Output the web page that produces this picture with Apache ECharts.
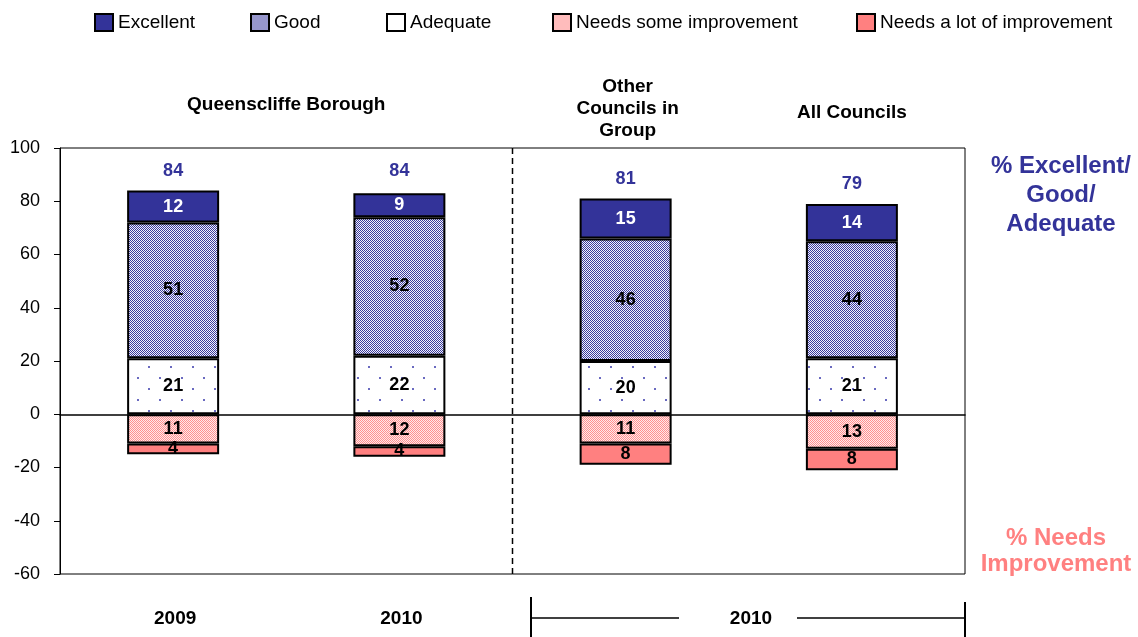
<!DOCTYPE html>
<html>
<head>
<meta charset="utf-8">
<script src="https://cdn.jsdelivr.net/npm/echarts@6/dist/echarts.min.js"></script>
<style>html,body{margin:0;padding:0;background:#fff}#c{width:1138px;height:637px}</style>
</head>
<body>
<div id="c"></div>
<script>
// ---- data ----
var categories = ['Queenscliffe Borough 2009', 'Queenscliffe Borough 2010', 'Other Councils in Group 2010', 'All Councils 2010'];
var seriesNames = ['Excellent', 'Good', 'Adequate', 'Needs some improvement', 'Needs a lot of improvement'];
var excellent = [12, 9, 15, 14];
var good = [51, 52, 46, 44];
var adequate = [21, 22, 20, 21];
var needsSome = [11, 12, 11, 13];
var needsLot = [4, 4, 8, 8];
var totals = [84, 84, 81, 79];
var groupTitles = ['Queenscliffe Borough', 'Other\nCouncils in\nGroup', 'All Councils'];
var periodLabels = ['2009', '2010', '2010'];
var yTicks = [-60, -40, -20, 0, 20, 40, 60, 80, 100];
var sideLabels = ['% Excellent/\nGood/\nAdequate', '% Needs\nImprovement'];

// ---- patterns ----
function pattern(w, h, bg, draw) {
  var c = document.createElement('canvas');
  c.width = w; c.height = h;
  var g = c.getContext('2d');
  g.fillStyle = bg; g.fillRect(0, 0, w, h);
  draw(g);
  return { image: c, repeat: 'repeat' };
}
var goodFill = pattern(2, 2, '#3a3a9c', function (g) { g.fillStyle = '#f4f4fb'; g.fillRect(0, 1, 1, 1); g.fillRect(1, 0, 1, 1); });
var adequateFill = pattern(22, 22, '#ffffff', function (g) { g.fillStyle = '#6a6ac0'; g.fillRect(5, 3, 2, 2); g.fillRect(16, 14, 2, 2); });
var someFill = pattern(2, 2, '#ff9090', function (g) { g.fillStyle = '#ffeaea'; g.fillRect(0, 1, 1, 1); g.fillRect(1, 0, 1, 1); });

var FONT = '"Liberation Sans", Arial, sans-serif';
var NAVY = '#333399';
var PINK = '#ff8080';
var legendFills = [NAVY, '#9696cc', '#ffffff', '#ffbcbc', PINK];

function barSeries(name, data, fill, labelColor) {
  return {
    name: name, type: 'bar', stack: 'all', barWidth: 92, data: data,
    itemStyle: { color: fill, borderColor: '#000', borderWidth: 2 },
    label: {
      show: true, position: 'inside', fontFamily: FONT, fontSize: 18, fontWeight: 'bold', color: labelColor,
      formatter: function (p) { return Math.abs(p.value); }
    },
    emphasis: { disabled: true }
  };
}

var legendLefts = [89, 245, 381, 547, 851];
var legends = seriesNames.map(function (n, i) {
  return {
    data: [n], left: legendLefts[i], top: 8, icon: 'rect', itemWidth: 18, itemHeight: 17, itemGap: 0,
    itemStyle: { color: legendFills[i], borderColor: '#000', borderWidth: 2 },
    textStyle: { fontFamily: FONT, fontSize: 19, color: '#000' },
    selectedMode: false
  };
});

var option = {
  animation: false,
  backgroundColor: '#fff',
  legend: legends,
  grid: { left: 60, right: 173, top: 148, bottom: 63, show: true, borderColor: '#000', borderWidth: 1, containLabel: false },
  xAxis: {
    type: 'category', data: categories,
    axisLine: { onZero: true, lineStyle: { color: '#000', width: 1.5 } },
    axisTick: { show: false }, axisLabel: { show: false }, splitLine: { show: false }
  },
  yAxis: {
    type: 'value', min: yTicks[0], max: yTicks[yTicks.length - 1], interval: 20,
    axisLine: { show: true, lineStyle: { color: '#000' } },
    axisTick: { show: true, length: 6, lineStyle: { color: '#000' } },
    axisLabel: { fontFamily: FONT, fontSize: 18, color: '#000', margin: 20 },
    splitLine: { show: false }
  },
  series: [
    barSeries('Adequate', adequate, adequateFill, '#000'),
    barSeries('Good', good, goodFill, '#000'),
    barSeries('Excellent', excellent, NAVY, '#fff'),
    barSeries('Needs some improvement', needsSome.map(function (v) { return -v; }), someFill, '#000'),
    barSeries('Needs a lot of improvement', needsLot.map(function (v) { return -v; }), PINK, '#000'),
    {
      name: 'Total', type: 'scatter', data: totals, symbolSize: 0, silent: true,
      itemStyle: { opacity: 1, color: NAVY },
      label: { show: true, position: 'top', distance: 11, fontFamily: FONT, fontSize: 18, fontWeight: 'bold', color: NAVY, opacity: 1 }
    }
  ]
};

var chart = echarts.init(document.getElementById('c'), null, { renderer: 'canvas' });
chart.setOption(option);

function px(i, v) { return chart.convertToPixel({ gridIndex: 0 }, [i, v]); }
var x0 = px(0, 0)[0], x1 = px(1, 0)[0], x2 = px(2, 0)[0], x3 = px(3, 0)[0];
var yTop = px(0, 100)[1], yBot = px(0, -60)[1];
var xRight = px(3, 0)[0] + (x3 - x2) / 2;
var xDash = (x1 + x2) / 2;
var bracketLeft = 531, bracketMid = (bracketLeft + xRight) / 2 + 3;
var titleStyle = { fontFamily: FONT, fontSize: 19, fontWeight: 'bold', fill: '#000', align: 'center', verticalAlign: 'middle', lineHeight: 22 };
function txt(text, x, y, extra) {
  var s = Object.assign({}, titleStyle, extra || {}, { text: text, x: x, y: y });
  return { type: 'text', style: s, silent: true };
}
var graphics = [
  { type: 'line', shape: { x1: xDash, y1: yTop, x2: xDash, y2: yBot }, style: { stroke: '#000', lineWidth: 1.5, lineDash: [6, 4] }, silent: true },
  txt(groupTitles[0], (x0 + x1) / 2, 105),
  txt(groupTitles[1], x2 + 2, 109),
  txt(groupTitles[2], x3, 113),
  txt(periodLabels[0], x0 + 2, 619),
  txt(periodLabels[1], x1 + 2, 619),
  txt(periodLabels[2], bracketMid, 619),
  { type: 'line', shape: { x1: bracketLeft, y1: 618, x2: bracketMid - 72, y2: 618 }, style: { stroke: '#000', lineWidth: 1.5 }, silent: true },
  { type: 'line', shape: { x1: bracketMid + 46, y1: 618, x2: xRight, y2: 618 }, style: { stroke: '#000', lineWidth: 1.5 }, silent: true },
  { type: 'line', shape: { x1: bracketLeft, y1: 597, x2: bracketLeft, y2: 637 }, style: { stroke: '#000', lineWidth: 2 }, silent: true },
  { type: 'line', shape: { x1: xRight, y1: 602, x2: xRight, y2: 637 }, style: { stroke: '#000', lineWidth: 2 }, silent: true },
  txt(sideLabels[0], 1061, 195, { fontSize: 24, fill: NAVY, lineHeight: 29 }),
  txt(sideLabels[1], 1056, 551, { fontSize: 24, fill: PINK, lineHeight: 26 })
];
chart.setOption({ graphic: graphics });
</script>
</body>
</html>
